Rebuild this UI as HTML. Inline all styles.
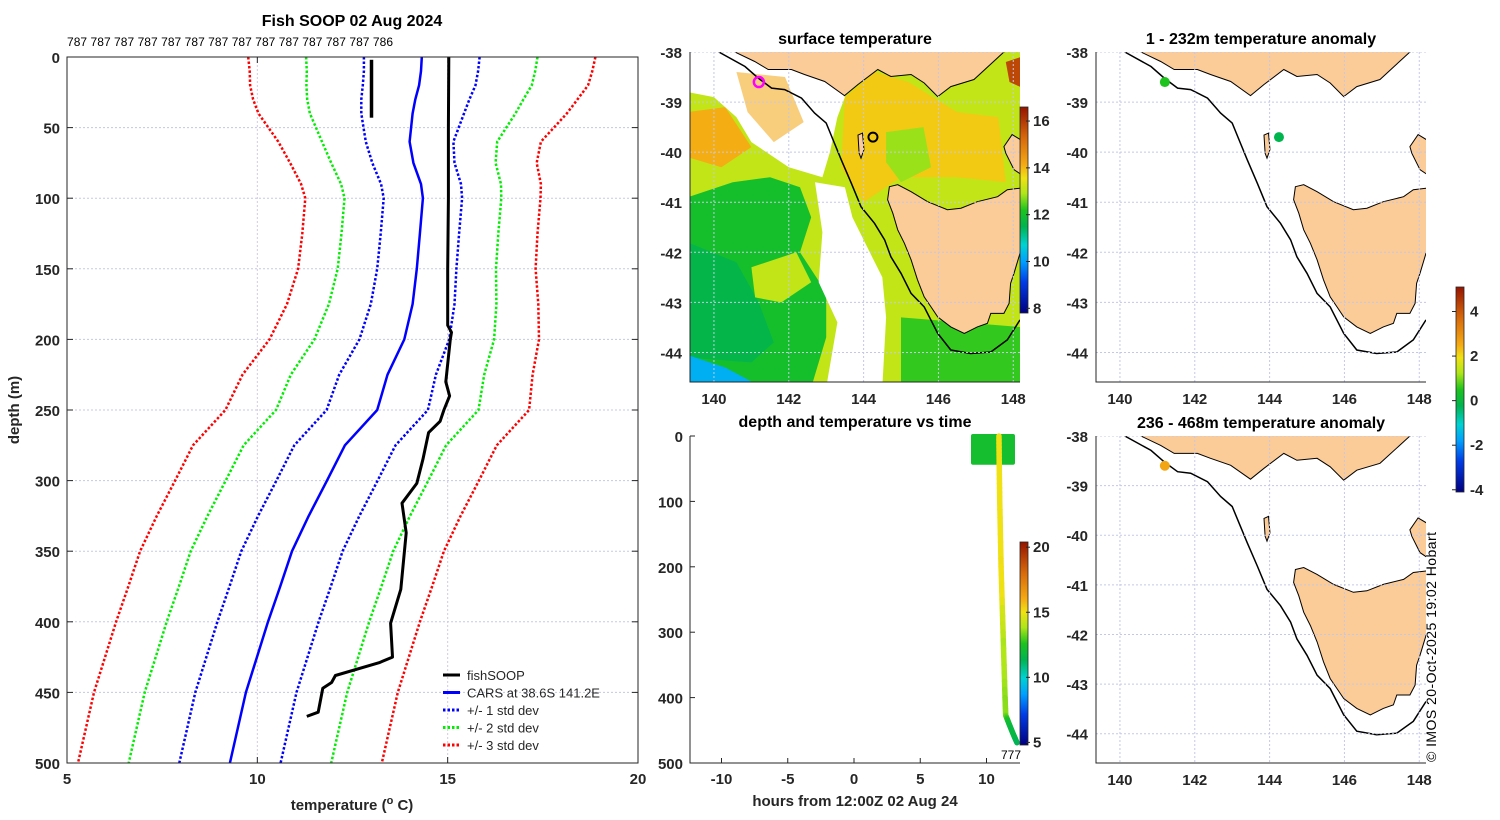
<!DOCTYPE html>
<html><head><meta charset="utf-8"><style>
body{margin:0;background:#fff}
svg{display:block;font-family:"Liberation Sans","DejaVu Sans",sans-serif}
.tk{font-size:15px;font-weight:bold;fill:#262626}
.tt{font-size:16px;font-weight:bold;fill:#000}
.pl{font-weight:normal;fill:#000}
</style></head><body>
<svg id="s" width="1500" height="820" viewBox="0 0 1500 820" xmlns="http://www.w3.org/2000/svg"></svg>
<script>
// ---------- DATA ----------
const carsDepth=[0,10,20,30,40,50,60,75,90,100,125,150,175,200,225,250,275,300,325,350,375,400,450,500];
const carsMean=[14.32,14.3,14.25,14.15,14.08,14.04,14.0,14.1,14.3,14.35,14.27,14.19,14.08,13.86,13.42,13.15,12.3,11.83,11.35,10.91,10.6,10.28,9.7,9.28];
const carsSd=[1.52,1.5,1.48,1.42,1.35,1.25,1.15,1.08,1.05,1.03,1.03,1.04,1.1,1.18,1.27,1.33,1.33,1.33,1.33,1.33,1.33,1.33,1.33,1.33];
const fishDepth=[0,50,100,150,190,195,200,230,240,250,258,266,285,302,316,337,377,401,425,429,438,443,447,464,467];
const fishTemp=[15.03,15.02,15.02,15.0,15.0,15.1,15.07,14.95,15.05,14.9,14.8,14.5,14.35,14.19,13.8,13.91,13.77,13.5,13.55,13.2,12.05,11.95,11.72,11.6,11.3];
const fish2Depth=[2,43];
const fish2Temp=[13.0,13.0];
const countLabels=["787","787","787","787","787","787","787","787","787","787","787","787","787","786"];
const xTicksT=[5,10,15,20];
const yTicksD=[0,50,100,150,200,250,300,350,400,450,500];
// depth-time panel
const dtDepth=[0,45,100,200,300,400,427,440,455,469];
const dtHours=[10.94,10.96,11.0,11.1,11.25,11.4,11.45,11.7,12.0,12.3];
const surfBlock={h0:8.83,h1:12.15,d0:0,d1:44,temp:12.2};
const hourTicks=[-10,-5,0,5,10];
const dtDepthTicks=[0,100,200,300,400,500];
// map points
const obsLon=[141.2,144.25];
const obsLat=[-38.6,-39.7];
const anomUpper=[0.5,-0.2];
const anomLowerLon=[141.2];
const anomLowerLat=[-38.6];
const anomLower=[2.6];
const lonTicks=[140,142,144,146,148];
const latTicks=[-38,-39,-40,-41,-42,-43,-44];
// geography (lon,lat)
const mainland=[[140.3,-37.5],[140.56,-38],[141.09,-38.19],[141.45,-38.35],[142.07,-38.35],[142.42,-38.45],[142.96,-38.59],[143.49,-38.87],[143.85,-38.65],[144.38,-38.35],[144.73,-38.49],[145.27,-38.45],[145.62,-38.62],[145.98,-38.89],[146.33,-38.69],[146.95,-38.55],[147.75,-38],[148.5,-37.5]];
const tasmania=[[144.69,-40.69],[144.91,-40.65],[145.27,-40.79],[145.71,-40.99],[146.24,-41.15],[146.6,-41.12],[147.04,-40.99],[147.58,-40.89],[147.84,-40.75],[148.18,-40.72],[148.5,-40.7],[148.5,-42.0],[148.18,-42.02],[148.02,-42.42],[147.93,-42.62],[147.89,-43.02],[147.75,-43.22],[147.4,-43.22],[147.31,-43.42],[147.04,-43.49],[146.69,-43.62],[146.33,-43.49],[145.98,-43.29],[145.8,-43.09],[145.62,-42.89],[145.44,-42.55],[145.27,-42.15],[145.09,-41.82],[144.91,-41.55],[144.78,-41.22],[144.64,-40.95]];
const kingIsland=[[143.85,-39.66],[143.97,-39.62],[144.01,-39.95],[143.93,-40.12],[143.88,-40.02]];
const flinders=[[147.75,-39.89],[147.97,-39.65],[148.3,-39.8],[148.3,-40.49],[148.02,-40.35],[147.8,-40.02]];
const shelf=[[140.13,-38],[140.83,-38.29],[141.18,-38.52],[141.54,-38.72],[141.89,-38.75],[142.34,-38.92],[142.69,-39.22],[143.0,-39.42],[143.22,-39.82],[143.4,-40.15],[143.67,-40.62],[143.93,-41.09],[144.29,-41.42],[144.56,-41.75],[144.73,-42.09],[145.0,-42.42],[145.27,-42.82],[145.62,-43.09],[145.98,-43.62],[146.33,-43.95],[146.86,-44.02],[147.4,-43.99],[147.84,-43.75],[148.18,-43.35]];
// SST regions (lon,lat) with temperature
const sstBlobs=[
 {t:13.1,p:[[139.3,-37.9],[148.3,-37.9],[148.3,-44.7],[139.3,-44.7]]},
 {t:13.8,p:[[143.5,-38.9],[144.3,-38.4],[145.2,-38.6],[146.5,-39.2],[147.6,-39.3],[147.8,-40.6],[146.5,-40.5],[145.0,-40.5],[144.0,-41.0],[143.4,-40.3]]},
 {t:12.8,p:[[144.6,-39.6],[145.6,-39.5],[145.8,-40.3],[145.0,-40.6],[144.6,-40.2]]},
 {t:14.1,p:[[139.3,-39.2],[140.3,-39.1],[141.0,-39.9],[140.2,-40.3],[139.3,-40.1]]},
 {t:12.0,p:[[139.3,-40.9],[140.5,-40.6],[141.5,-40.5],[142.3,-40.7],[142.6,-41.3],[142.3,-42.0],[143.0,-42.8],[143.0,-43.7],[142.6,-44.7],[139.3,-44.7]]},
 {t:11.6,p:[[139.3,-41.8],[140.6,-42.2],[141.2,-43.0],[141.6,-43.8],[141.0,-44.2],[139.3,-44.1]]},
 {t:13.1,p:[[141.0,-42.3],[142.2,-42.0],[142.6,-42.6],[141.8,-43.0],[141.1,-42.9]]},
 {t:10.2,p:[[139.3,-44.05],[140.3,-44.3],[141.3,-44.7],[139.3,-44.7]]},
 {t:12.3,p:[[145.0,-43.3],[148.3,-43.5],[148.3,-44.7],[145.0,-44.7]]},
 {t:null,p:[[140.2,-37.9],[143.0,-37.9],[143.5,-38.9],[143.3,-39.3],[143.1,-40.0],[142.9,-40.5],[142.0,-40.3],[141.0,-39.8],[140.6,-39.3],[140.0,-38.9],[139.3,-38.8],[139.3,-37.9]]},
 {t:14.2,o:0.55,p:[[140.6,-38.4],[141.9,-38.5],[142.4,-39.4],[141.6,-39.8],[140.9,-39.2]]},
 {t:null,p:[[142.7,-40.6],[143.5,-40.7],[143.7,-41.3],[144.1,-41.9],[144.5,-42.5],[144.6,-43.3],[144.5,-44.7],[143.0,-44.7],[143.3,-43.4],[142.8,-42.6],[142.9,-41.6]]},
 {t:15.8,p:[[147.8,-38.2],[148.2,-38.1],[148.2,-38.7],[147.9,-38.6]]}
];
// ---------- HELPERS ----------
const S=document.getElementById('s');const NS='http://www.w3.org/2000/svg';
function mk(tag,at,parent){const e=document.createElementNS(NS,tag);for(const k in at)e.setAttribute(k,at[k]);(parent||S).appendChild(e);return e;}
function txt(x,y,s,cls,anchor,extra){const e=mk('text',Object.assign({x:x,y:y,class:cls||'tk','text-anchor':anchor||'middle'},extra||{}));e.textContent=s;return e;}
const stops=[[0,[0,0,128]],[0.15,[0,60,230]],[0.25,[0,160,255]],[0.33,[0,210,210]],[0.42,[0,180,80]],[0.5,[30,195,30]],[0.58,[175,230,25]],[0.655,[240,225,20]],[0.72,[245,170,20]],[0.85,[215,105,10]],[1,[150,20,0]]];
function cmap(v){v=Math.max(0,Math.min(1,v));for(let i=1;i<stops.length;i++){if(v<=stops[i][0]){const a=stops[i-1],b=stops[i];const f=(v-a[0])/(b[0]-a[0]);const c=a[1].map((x,j)=>Math.round(x+(b[1][j]-x)*f));return `rgb(${c[0]},${c[1]},${c[2]})`;}}return 'rgb(150,20,0)';}
function gradDef(id){const d=mk('defs',{});const g=mk('linearGradient',{id:id,x1:0,y1:1,x2:0,y2:0},d);stops.forEach(s=>mk('stop',{offset:s[0],'stop-color':`rgb(${s[1].join(',')})`},g));}
gradDef('cm');
function interp(xs,ys,x){if(x<=xs[0])return ys[0];for(let i=1;i<xs.length;i++)if(x<=xs[i]){const f=(x-xs[i-1])/(xs[i]-xs[i-1]);return ys[i-1]+f*(ys[i]-ys[i-1]);}return ys[ys.length-1];}

// ---------- LEFT PROFILE ----------
const L={x0:67,x1:638,y0:57,y1:763};
const tx=t=>L.x0+(t-5)/15*(L.x1-L.x0);
const dy=d=>L.y0+d/500*(L.y1-L.y0);
const gP=mk('g',{});

yTicksD.forEach(d=>{if(d>0&&d<500){const l=mk('line',{x1:L.x0,x2:L.x1,y1:dy(d),y2:dy(d),stroke:'#c4c8e8','stroke-width':1,'stroke-dasharray':'2,2'},gP);}});
xTicksT.forEach(t=>{if(t>5&&t<20){const l=mk('line',{x1:tx(t),x2:tx(t),y1:L.y0,y2:L.y1,stroke:'#d8c8e0','stroke-width':1,'stroke-dasharray':'2,2'},gP);}});
function pline(ds,ts,col,w,dash,name){const pts=ds.map((d,i)=>tx(ts[i]).toFixed(1)+','+dy(d).toFixed(1)).join(' ');const p=mk('polyline',{points:pts,fill:'none',stroke:col,'stroke-width':w,'stroke-linejoin':'round'},gP);if(dash)p.setAttribute('stroke-dasharray',dash);}
[[3,'#ff0000'],[2,'#00ee00'],[1,'#0000ff']].forEach(([k,c])=>{
 pline(carsDepth,carsMean.map((m,i)=>m-k*carsSd[i]),c,2.5,'2.5,2',`cars-minus-${k}sd`);
 pline(carsDepth,carsMean.map((m,i)=>m+k*carsSd[i]),c,2.5,'2.5,2',`cars-plus-${k}sd`);
});
pline(carsDepth,carsMean,'#0000ff',2.5,null,'cars-mean-line');
pline(fishDepth,fishTemp,'#000',3,null,'fishsoop-line');
pline(fish2Depth,fish2Temp,'#000',3.5,null,'fishsoop-surface-line');
const fr=mk('rect',{x:L.x0,y:L.y0,width:L.x1-L.x0,height:L.y1-L.y0,fill:'none',stroke:'#262626','stroke-width':1},gP);

yTicksD.forEach(d=>{mk('line',{x1:L.x0,x2:L.x0+6,y1:dy(d),y2:dy(d),stroke:'#262626'},gP);mk('line',{x1:L.x1-6,x2:L.x1,y1:dy(d),y2:dy(d),stroke:'#262626'},gP);
 const e=txt(L.x0-7,dy(d)+6,String(d),'tk','end',{'font-size':'16px'});});
xTicksT.forEach(t=>{mk('line',{x1:tx(t),x2:tx(t),y1:L.y1-6,y2:L.y1,stroke:'#262626'},gP);mk('line',{x1:tx(t),x2:tx(t),y1:L.y0,y2:L.y0+6,stroke:'#262626'},gP);
 const e=txt(tx(t),784,String(t),'tk','middle',{'font-size':'16px'});});
let e;
e=txt(352,26,'Fish SOOP 02 Aug 2024','tt','middle',{'font-size':'17px'});
e=txt(67,46,countLabels.join(' '),'pl','start',{'font-size':'12px','textLength':326});
e=txt(19,410,'depth (m)','tk','middle',{transform:'rotate(-90 19 410)','font-size':'17px'});
e=mk('text',{x:352,y:810,class:'tk','text-anchor':'middle','font-size':'17px'});e.innerHTML='temperature (<tspan dy="-6" font-size="11">o</tspan><tspan dy="6"> C)</tspan>';
// legend
const leg=[['fishSOOP','#000',null],['CARS at 38.6S 141.2E','#0000ff',null],['+/- 1 std dev','#0000ff','2.5,2'],['+/- 2 std dev','#00ee00','2.5,2'],['+/- 3 std dev','#ff0000','2.5,2']];
leg.forEach((l,i)=>{const y=675+i*17.5;const g=mk('g',{});
 const ln=mk('line',{x1:443,x2:460,y1:y,y2:y,stroke:l[1],'stroke-width':3},g);if(l[2])ln.setAttribute('stroke-dasharray',l[2]);
 const t=mk('text',{x:467,y:y+5,'font-size':'13px',fill:'#262626'},g);t.textContent=l[0];});

// ---------- MAPS ----------
function makeMap(M,name){
 const lx=lon=>M.x0+(lon-M.lon0)/(M.lon1-M.lon0)*(M.x1-M.x0);
 const ly=lat=>M.y0+(M.lat0-lat)/(M.lat0-M.lat1)*(M.y1-M.y0);
 const cid='clip'+name;const d=mk('defs',{});const cp=mk('clipPath',{id:cid},d);mk('rect',{x:M.x0,y:M.y0,width:M.x1-M.x0,height:M.y1-M.y0},cp);
 const g=mk('g',{'clip-path':`url(#${cid})`});
 const poly=(pts,at)=>mk('polygon',Object.assign({points:pts.map(p=>lx(p[0]).toFixed(1)+','+ly(p[1]).toFixed(1)).join(' ')},at),g);
 return {lx,ly,g,poly};
}
function mapAxes(M,m,title,labelX){
 lonTicks.forEach(v=>{mk('line',{x1:m.lx(v),x2:m.lx(v),y1:M.y0,y2:M.y1,stroke:'#c4c8e8','stroke-dasharray':'2,2'},m.g);});
 latTicks.forEach(v=>{mk('line',{x1:M.x0,x2:M.x1,y1:m.ly(v),y2:m.ly(v),stroke:'#c4c8e8','stroke-dasharray':'2,2'},m.g);});
 mk('polyline',{points:[[M.x0,M.y0],[M.x0,M.y1],[M.x1,M.y1]].map(p=>p.join(',')).join(' '),fill:'none',stroke:'#262626'});
 latTicks.forEach(v=>{const t=txt(labelX,m.ly(v)+6,String(v),'tk','end',{'font-size':'16px'});});
 if(M.showX)lonTicks.forEach(v=>{const t=txt(m.lx(v),M.y1+22,String(v),'tk','middle',{'font-size':'16px'});});
 const t=txt((M.x0+M.x1)/2,M.y0-8,title,'tt','middle',{'font-size':'17px'});
}
function geo(m){
 m.poly(mainland.concat([[148.5,-37.4],[140.3,-37.4]]),{fill:'#fbcb98',stroke:'#000','stroke-width':1});
 m.poly(tasmania,{fill:'#fbcb98',stroke:'#000','stroke-width':1});
 m.poly(kingIsland,{fill:'#fbcb98',stroke:'#000','stroke-width':1});
 m.poly(flinders,{fill:'#fbcb98',stroke:'#000','stroke-width':1});
 mk('polyline',{points:shelf.map(p=>m.lx(p[0]).toFixed(1)+','+m.ly(p[1]).toFixed(1)).join(' '),fill:'none',stroke:'#000','stroke-width':1.5},m.g);
}
// SST map
const M1={x0:690,x1:1020,y0:52,y1:382,lon0:139.36,lon1:148.18,lat0:-38,lat1:-44.59,showX:true};
const m1=makeMap(M1,'sst-map');
sstBlobs.forEach(b=>{const p=m1.poly(b.p,{fill:b.t===null?'#fff':cmap((b.t-7.8)/(16.6-7.8)),opacity:b.o||1});});
geo(m1);
mk('circle',{cx:m1.lx(obsLon[0]),cy:m1.ly(obsLat[0]),r:5,fill:'none',stroke:'#ff00ff','stroke-width':2.5},m1.g);
mk('circle',{cx:m1.lx(obsLon[1]),cy:m1.ly(obsLat[1]),r:4.5,fill:'none',stroke:'#000','stroke-width':2},m1.g);
mapAxes(M1,m1,'surface temperature',682);
// SST colorbar
let cb=mk('rect',{x:1020,y:107,width:8,height:206,fill:'url(#cm)',stroke:'#262626','stroke-width':0.8});
[16,14,12,10,8].forEach(v=>{const y=313-(v-7.8)/(16.6-7.8)*206;mk('line',{x1:1026,x2:1030,y1:y,y2:y,stroke:'#262626'});txt(1033,y+5,String(v),'tk','start',{'font-size':'13px'});});

// anomaly maps
function anomMap(M,name,title,lons,lats,vals){
 const m=makeMap(M,name);geo(m);
 lons.forEach((lo,i)=>{const c=mk('circle',{cx:m.lx(lo),cy:m.ly(lats[i]),r:5,fill:cmap((vals[i]+4.1)/9.2)},m.g);});
 mapAxes(M,m,title,1088);
}
anomMap({x0:1096,x1:1426,y0:52,y1:382,lon0:139.36,lon1:148.18,lat0:-38,lat1:-44.59,showX:true},'anomaly-map-upper','1 - 232m temperature anomaly',obsLon,obsLat,anomUpper);
anomMap({x0:1096,x1:1426,y0:436,y1:763,lon0:139.36,lon1:148.18,lat0:-38,lat1:-44.59,showX:true},'anomaly-map-lower','236 - 468m temperature anomaly',anomLowerLon,anomLowerLat,anomLower);
cb=mk('rect',{x:1456,y:287,width:8,height:205,fill:'url(#cm)',stroke:'#262626','stroke-width':0.8});
[4,2,0,-2,-4].forEach(v=>{const y=492-(v+4.1)/9.2*205;mk('line',{x1:1452,x2:1456,y1:y,y2:y,stroke:'#262626'});txt(1470,y+5,String(v),'tk','start',{'font-size':'12px'});});
e=txt(1436,762,'© IMOS 20-Oct-2025 19:02 Hobart','pl','start',{'font-size':'14px',fill:'#262626',transform:'rotate(-90 1436 762)','textLength':230});

// ---------- DEPTH vs TIME ----------
const D={x0:690,x1:1020,y0:436,y1:763};
const hx=h=>854+h*13.25;
const hy=d=>D.y0+d/500*(D.y1-D.y0);
const gD=mk('g',{});
mk('polyline',{points:`${D.x0},${D.y0} ${D.x0},${D.y1} ${D.x1},${D.y1}`,fill:'none',stroke:'#262626'},gD);
hourTicks.forEach(h=>{mk('line',{x1:hx(h),x2:hx(h),y1:D.y1-5,y2:D.y1,stroke:'#262626'},gD);const t=txt(hx(h),784,String(h),'tk','middle',{'font-size':'16px'});});
dtDepthTicks.forEach(d=>{mk('line',{x1:D.x0,x2:D.x0+5,y1:hy(d),y2:hy(d),stroke:'#262626'},gD);const t=txt(683,hy(d)+6,String(d),'tk','end',{'font-size':'16px'});});
const sb=mk('rect',{x:hx(surfBlock.h0),y:hy(surfBlock.d0)-2,width:hx(surfBlock.h1)-hx(surfBlock.h0),height:hy(surfBlock.d1)-hy(surfBlock.d0)+2,rx:2,fill:cmap((surfBlock.temp-4.8)/(20.4-4.8))},gD);

for(let i=0;i<dtDepth.length-1;i++){
 const sub=8;for(let k=0;k<sub;k++){const da=dtDepth[i]+(dtDepth[i+1]-dtDepth[i])*k/sub,db=dtDepth[i]+(dtDepth[i+1]-dtDepth[i])*(k+1)/sub;
 const ha=interp(dtDepth,dtHours,da),hb=interp(dtDepth,dtHours,db);const tm=interp(fishDepth,fishTemp,(da+db)/2);
 const l=mk('line',{x1:hx(ha),y1:hy(da),x2:hx(hb),y2:hy(db),stroke:cmap((tm-4.8)/(20.4-4.8)),'stroke-width':5.5,'stroke-linecap':'round'},gD);
 }
}
e=txt(855,427,'depth and temperature vs time','tt','middle',{'font-size':'17px'});
e=txt(855,806,'hours from 12:00Z 02 Aug 24','tk','middle',{'font-size':'17px'});
e=txt(1011,759,'777','pl','middle',{'font-size':'12px'});
cb=mk('rect',{x:1020,y:542,width:8,height:203,fill:'url(#cm)',stroke:'#262626','stroke-width':0.8});
[20,15,10,5].forEach(v=>{const y=745-(v-4.8)/(20.4-4.8)*203;mk('line',{x1:1026,x2:1030,y1:y,y2:y,stroke:'#262626'});txt(1033,y+5,String(v),'tk','start',{'font-size':'13px'});});
</script></body></html>
